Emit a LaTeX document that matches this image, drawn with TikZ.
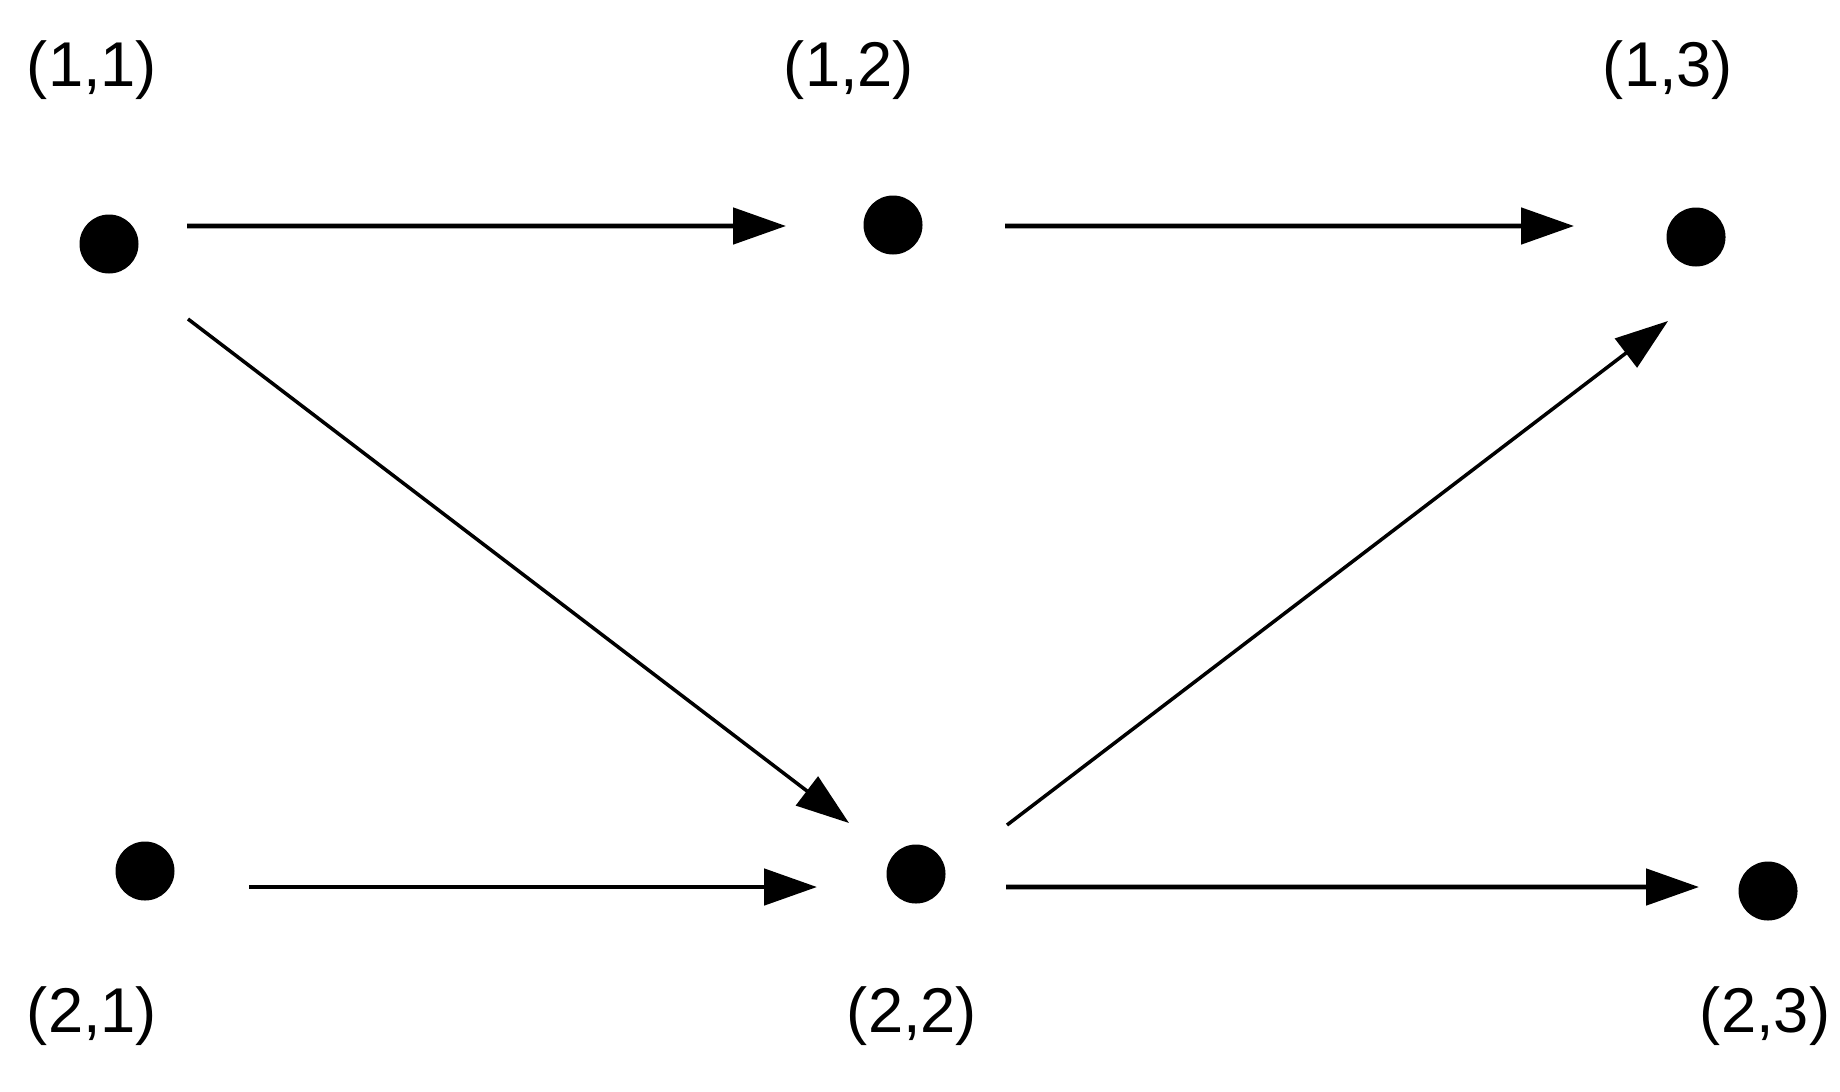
\documentclass[tikz,border=0pt]{standalone}
\usepackage{fontspec}
\setmainfont{Liberation Sans}
\usepackage{tikz}
\usetikzlibrary{arrows.meta,positioning}

\begin{document}
\begin{tikzpicture}[
    dot/.style={circle, fill=black, inner sep=0pt, minimum size=0.59cm},
    lbl/.style={font=\fontsize{18}{20}\selectfont, inner sep=0pt},
    arrow/.style={-{Triangle[length=5.3mm, width=3.6mm]}, line width=1.4pt},
    slant/.style={arrow, line width=1pt}
]
\useasboundingbox (0,0) rectangle (18.4,-10.91);

% vertices
\node[dot] (d11) at (1.09,-2.44) {};
\node[dot] (d12) at (8.93,-2.25) {};
\node[dot] (d13) at (16.96,-2.37) {};
\node[dot] (d21) at (1.45,-8.71) {};
\node[dot] (d22) at (9.16,-8.74) {};
\node[dot] (d23) at (17.68,-8.91) {};

% labels
\node[lbl] (l11) at (0.92,-0.70) {(1,1)};
\node[lbl] (l12) at (8.49,-0.70) {(1,2)};
\node[lbl] (l13) at (16.68,-0.70) {(1,3)};
\node[lbl] (l21) at (0.92,-10.16) {(2,1)};
\node[lbl] (l22) at (9.12,-10.16) {(2,2)};
\node[lbl] (l23) at (17.65,-10.16) {(2,3)};

% edges
\draw[arrow] ([shift={(0.78,0.18)}]d11.center) -- ([shift={(-1.07,-0.01)}]d12.center);
\draw[arrow] ([shift={(1.12,-0.01)}]d12.center) -- ([shift={(-1.22,0.11)}]d13.center);
\draw[slant] ([shift={(0.79,-0.75)}]d11.center) -- ([shift={(-0.67,0.51)}]d22.center);
\draw[slant] ([shift={(0.91,0.49)}]d22.center) -- ([shift={(-0.28,-0.84)}]d13.center);
\draw[arrow] ([shift={(1.04,-0.16)}]d21.center) -- ([shift={(-0.99,-0.13)}]d22.center);
\draw[arrow] ([shift={(0.90,-0.13)}]d22.center) -- ([shift={(-0.69,0.04)}]d23.center);
\end{tikzpicture}
\end{document}
